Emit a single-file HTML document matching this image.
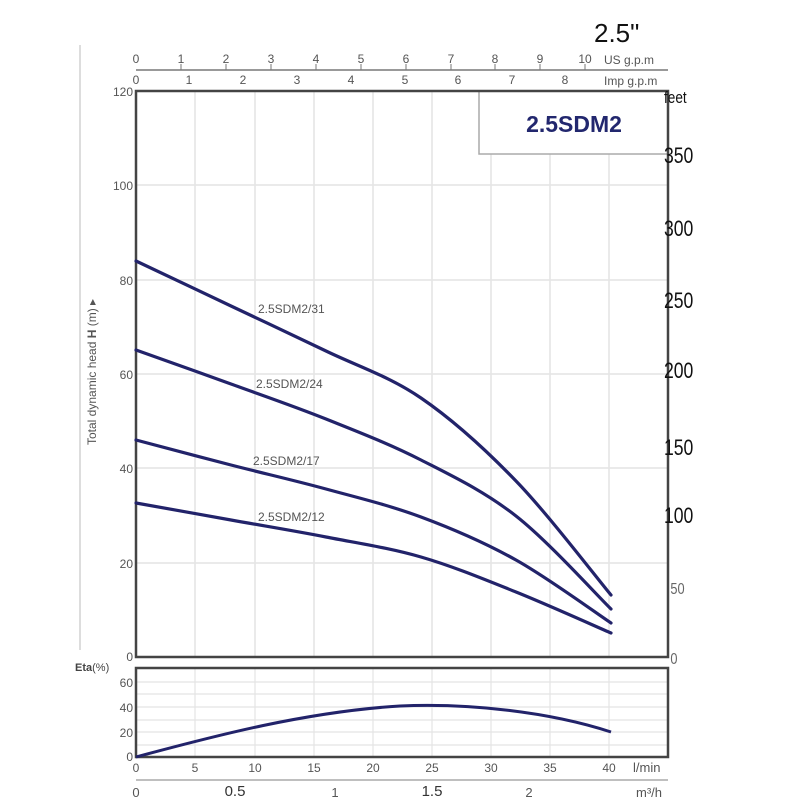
<!DOCTYPE html>
<html><head><meta charset="utf-8"><style>
body{margin:0;background:#fff;}
svg text{font-family:"Liberation Sans",sans-serif;}
</style></head><body>
<svg width="800" height="800" viewBox="0 0 800 800" xmlns="http://www.w3.org/2000/svg">
<rect width="800" height="800" fill="#fff"/>
<text x="594" y="42" font-size="26" fill="#111">2.5"</text>
<line x1="136" y1="70" x2="668" y2="70" stroke="#999" stroke-width="2"/>
<g font-size="12" fill="#555" text-anchor="middle">
<text x="136" y="63">0</text><text x="181" y="63">1</text><text x="226" y="63">2</text><text x="271" y="63">3</text><text x="316" y="63">4</text><text x="361" y="63">5</text><text x="406" y="63">6</text><text x="451" y="63">7</text><text x="495" y="63">8</text><text x="540" y="63">9</text><text x="585" y="63">10</text>
<text x="136" y="84">0</text><text x="189" y="84">1</text><text x="243" y="84">2</text><text x="297" y="84">3</text><text x="351" y="84">4</text><text x="405" y="84">5</text><text x="458" y="84">6</text><text x="512" y="84">7</text><text x="565" y="84">8</text>
</g>
<g stroke="#777" stroke-width="1">
<line x1="181" y1="64" x2="181" y2="70"/><line x1="226" y1="64" x2="226" y2="70"/><line x1="271" y1="64" x2="271" y2="70"/><line x1="316" y1="64" x2="316" y2="70"/><line x1="361" y1="64" x2="361" y2="70"/><line x1="406" y1="64" x2="406" y2="70"/><line x1="451" y1="64" x2="451" y2="70"/><line x1="495" y1="64" x2="495" y2="70"/><line x1="540" y1="64" x2="540" y2="70"/><line x1="585" y1="64" x2="585" y2="70"/>
</g>
<text x="604" y="64" font-size="12" fill="#555">US g.p.m</text>
<text x="604" y="85" font-size="12" fill="#555">Imp g.p.m</text>
<line x1="80" y1="45" x2="80" y2="650" stroke="#bbb" stroke-width="1"/>
<g stroke="#e4e4e4" stroke-width="1.5">
<line x1="195" y1="91" x2="195" y2="657"/><line x1="255" y1="91" x2="255" y2="657"/><line x1="314" y1="91" x2="314" y2="657"/><line x1="373" y1="91" x2="373" y2="657"/><line x1="432" y1="91" x2="432" y2="657"/><line x1="491" y1="91" x2="491" y2="657"/><line x1="550" y1="91" x2="550" y2="657"/><line x1="609" y1="91" x2="609" y2="657"/>
<line x1="136" y1="185" x2="668" y2="185"/><line x1="136" y1="280" x2="668" y2="280"/><line x1="136" y1="374" x2="668" y2="374"/><line x1="136" y1="468" x2="668" y2="468"/><line x1="136" y1="563" x2="668" y2="563"/>
</g>
<rect x="479" y="91" width="189" height="63" fill="#fff" stroke="#aaa" stroke-width="1.5"/>
<text x="574" y="132" font-size="23" font-weight="bold" fill="#22276e" text-anchor="middle">2.5SDM2</text>
<rect x="136" y="91" width="532" height="566" fill="none" stroke="#444" stroke-width="2.5"/>
<g font-size="12" fill="#555" text-anchor="end">
<text x="133" y="96">120</text><text x="133" y="190">100</text><text x="133" y="285">80</text><text x="133" y="379">60</text><text x="133" y="473">40</text><text x="133" y="568">20</text><text x="133" y="661">0</text>
</g>
<text transform="translate(96,445) rotate(-90)" font-size="12" fill="#555">Total dynamic head <tspan font-weight="bold">H</tspan> (m) ▸</text>
<g font-size="22" fill="#111" transform="scale(0.8,1)">
<text x="830" y="103" font-size="17">feet</text>
<text x="830" y="163">350</text><text x="830" y="236">300</text><text x="830" y="308">250</text><text x="830" y="378">200</text>
<text x="830" y="455">150</text><text x="830" y="523">100</text><text x="838" y="594" font-size="16" fill="#666">50</text><text x="838" y="664" font-size="16" fill="#666">0</text>
</g>
<g fill="none" stroke="#22236a" stroke-width="3.2" stroke-linecap="round">
<path d="M136,261 C151.8,268.5 199.3,291 231,306 C262.7,321 294.3,335.7 326,351 C357.7,366.3 389.3,376.3 421,398 C452.7,419.7 484.3,448.2 516,481 C547.7,513.8 595.2,576 611,595"/>
<path d="M136,350 C151.8,355.7 199.3,372.5 231,384 C262.7,395.5 294.3,406.3 326,419 C357.7,431.7 389.3,443.8 421,460 C452.7,476.2 484.3,491.2 516,516 C547.7,540.8 595.2,593.5 611,609"/>
<path d="M136,440 C151.8,444.2 199.3,456.8 231,465 C262.7,473.2 294.3,480.3 326,489 C357.7,497.7 389.3,505.2 421,517 C452.7,528.8 484.3,542.3 516,560 C547.7,577.7 595.2,612.5 611,623"/>
<path d="M136,503 C151.8,505.8 199.3,514.3 231,520 C262.7,525.7 294.3,530.8 326,537 C357.7,543.2 389.3,547.8 421,557 C452.7,566.2 484.3,579.3 516,592 C547.7,604.7 595.2,626.2 611,633"/>
</g>
<g font-size="12" fill="#555">
<text x="258" y="313">2.5SDM2/31</text><text x="256" y="388">2.5SDM2/24</text><text x="253" y="465">2.5SDM2/17</text><text x="258" y="521">2.5SDM2/12</text>
</g>
<g stroke="#e4e4e4" stroke-width="1.2">
<line x1="195" y1="668" x2="195" y2="757"/><line x1="255" y1="668" x2="255" y2="757"/><line x1="314" y1="668" x2="314" y2="757"/><line x1="373" y1="668" x2="373" y2="757"/><line x1="432" y1="668" x2="432" y2="757"/><line x1="491" y1="668" x2="491" y2="757"/><line x1="550" y1="668" x2="550" y2="757"/><line x1="609" y1="668" x2="609" y2="757"/>
<line x1="136" y1="682" x2="668" y2="682"/><line x1="136" y1="694" x2="668" y2="694"/><line x1="136" y1="707" x2="668" y2="707"/><line x1="136" y1="720" x2="668" y2="720"/><line x1="136" y1="732" x2="668" y2="732"/><line x1="136" y1="745" x2="668" y2="745"/>
</g>
<rect x="136" y="668" width="532" height="89" fill="none" stroke="#444" stroke-width="2.5"/>
<text x="75" y="671" font-size="11" font-weight="bold" fill="#444">Eta<tspan font-weight="normal">(%)</tspan></text>
<g font-size="12" fill="#555" text-anchor="end">
<text x="133" y="687">60</text><text x="133" y="712">40</text><text x="133" y="737">20</text><text x="133" y="761">0</text>
</g>
<path d="M136,757 C200,740 300,712 400,706 C470,703 550,712 611,732" fill="none" stroke="#22236a" stroke-width="3"/>
<g font-size="12" fill="#555" text-anchor="middle">
<text x="136" y="772">0</text><text x="195" y="772">5</text><text x="255" y="772">10</text><text x="314" y="772">15</text><text x="373" y="772">20</text><text x="432" y="772">25</text><text x="491" y="772">30</text><text x="550" y="772">35</text><text x="609" y="772">40</text>
</g>
<text x="633" y="772" font-size="13" fill="#555">l/min</text>
<line x1="136" y1="780" x2="668" y2="780" stroke="#aaa" stroke-width="1.5"/>
<g font-size="13" fill="#555" text-anchor="middle">
<text x="136" y="797">0</text><text x="335" y="797">1</text><text x="529" y="797">2</text>
</g>
<text x="235" y="796" font-size="15" fill="#333" text-anchor="middle">0.5</text>
<text x="432" y="796" font-size="15" fill="#333" text-anchor="middle">1.5</text>
<text x="636" y="797" font-size="13" fill="#555">m³/h</text>
</svg>
</body></html>
